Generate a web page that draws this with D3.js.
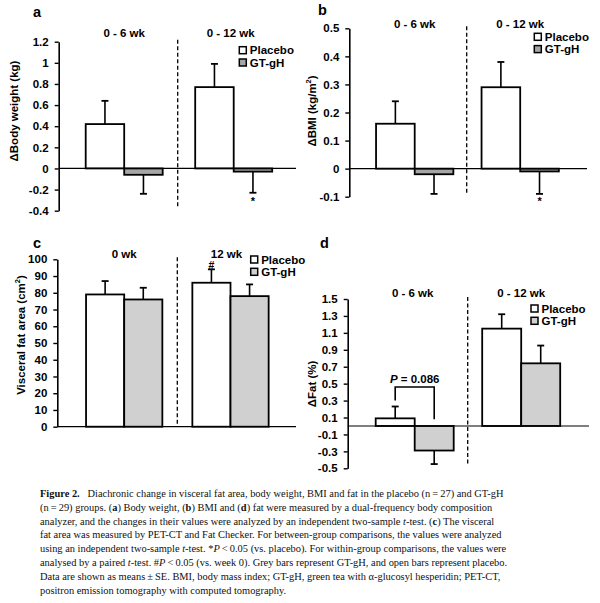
<!DOCTYPE html>
<html>
<head>
<meta charset="utf-8">
<script src="https://cdn.jsdelivr.net/npm/d3@7"></script>
<style>
  body { margin: 0; background: #fff; }
  svg { display: block; }
  .lab { font-family: "Liberation Sans", Arial, sans-serif; font-weight: bold; }
  .cap { font-family: "Liberation Serif", "Times New Roman", serif; }
</style>
</head>
<body>
<div id="chart"></div>
<script>
// groups and series
const changeGroups = ["0 - 6 wk", "0 - 12 wk"];
const visitGroups = ["0 wk", "12 wk"];
const series = ["Placebo", "GT-gH"];

// (a) change in body weight, kg
const weightPlacebo = [0.42, 0.77];
const weightPlaceboSE = [0.22, 0.22];
const weightGT = [-0.06, -0.03];
const weightGTSE = [0.18, 0.20];
const weightTicks = [-0.4, -0.2, 0, 0.2, 0.4, 0.6, 0.8, 1, 1.2];

// (b) change in BMI
const bmiPlacebo = [0.16, 0.29];
const bmiPlaceboSE = [0.08, 0.09];
const bmiGT = [-0.02, -0.01];
const bmiGTSE = [0.07, 0.08];
const bmiTicks = [-0.1, 0, 0.1, 0.2, 0.3, 0.4, 0.5];

// (c) visceral fat area, cm2
const vfaPlacebo = [79, 86];
const vfaPlaceboSE = [8, 8];
const vfaGT = [76, 78];
const vfaGTSE = [7, 7];
const vfaTicks = [0, 10, 20, 30, 40, 50, 60, 70, 80, 90, 100];

// (d) change in fat, %
const fatPlacebo = [0.09, 1.15];
const fatPlaceboSE = [0.14, 0.17];
const fatGT = [-0.29, 0.74];
const fatGTSE = [0.16, 0.21];
const fatTicks = [-0.5, -0.3, -0.1, 0.1, 0.3, 0.5, 0.7, 0.9, 1.1, 1.3, 1.5];

// caption lines
const captionLines = [
  [["b", "Figure 2."], ["", "\u2002 Diachronic change in visceral fat area, body weight, BMI and fat in the placebo (n\u2009=\u200927) and GT-gH"]],
  [["", "(n\u2009=\u200929) groups. ("], ["b", "a"], ["", ") Body weight, ("], ["b", "b"], ["", ") BMI and ("], ["b", "d"], ["", ") fat were measured by a dual-frequency body composition"]],
  [["", "analyzer, and the changes in their values were analyzed by an independent two-sample "], ["i", "t"], ["", "-test. ("], ["b", "c"], ["", ") The visceral"]],
  [["", "fat area was measured by PET-CT and Fat Checker. For between-group comparisons, the values were analyzed"]],
  [["", "using an independent two-sample "], ["i", "t"], ["", "-test. *"], ["i", "P"], ["", "\u2009<\u20090.05 (vs. placebo). For within-group comparisons, the values were"]],
  [["", "analysed by a paired "], ["i", "t"], ["", "-test. #"], ["i", "P"], ["", "\u2009<\u20090.05 (vs. week 0). Grey bars represent GT-gH, and open bars represent placebo."]],
  [["", "Data are shown as means\u2009\u00b1\u2009SE. BMI, body mass index; GT-gH, green tea with \u03b1-glucosyl hesperidin; PET-CT,"]],
  [["", "positron emission tomography with computed tomography."]]
];

const width = 600;
const height = 603;

const svg = d3.select("#chart")
  .append("svg")
  .attr("width", width)
  .attr("height", height);

const fmt = d => String(+d.toFixed(1));

// one bar panel
function drawPanel(p) {
  const g = svg.append("g");

  const y = d3.scaleLinear().domain(p.domain).range([p.bottom, p.top]);

  const step = p.c2 - p.c1;
  const x = d3.scaleBand()
    .domain(p.groups)
    .range([p.c1 - step / 2, p.c2 + step / 2])
    .paddingInner(1 - p.bw / step)
    .paddingOuter((1 - p.bw / step) / 2);
  const xs = d3.scaleBand().domain(series).range([0, x.bandwidth()]);

  const rows = [];
  p.groups.forEach((grp, i) => {
    rows.push({ grp, s: "Placebo", v: p.placebo[i], e: p.placeboSE[i] });
    rows.push({ grp, s: "GT-gH", v: p.gt[i], e: p.gtSE[i] });
  });
  const fill = s => s === "Placebo" ? "#ffffff" : p.grey;
  const cx = d => x(d.grp) + xs(d.s) + xs.bandwidth() / 2;
  const tip = d => y(d.v >= 0 ? d.v + d.e : d.v - d.e);

  // error bars (one-sided, away from zero)
  const eb = g.selectAll(".err").data(rows).enter().append("g");
  eb.append("line")
    .attr("x1", cx).attr("x2", cx)
    .attr("y1", d => y(d.v)).attr("y2", tip)
    .attr("stroke", "#000").attr("stroke-width", 1.6);
  eb.append("line")
    .attr("x1", d => cx(d) - 3.5).attr("x2", d => cx(d) + 3.5)
    .attr("y1", tip).attr("y2", tip)
    .attr("stroke", "#000").attr("stroke-width", 1.8);

  // bars
  g.selectAll(".bar").data(rows).enter().append("rect")
    .attr("x", d => x(d.grp) + xs(d.s))
    .attr("width", xs.bandwidth())
    .attr("y", d => y(Math.max(0, d.v)))
    .attr("height", d => Math.abs(y(d.v) - y(0)))
    .attr("fill", d => fill(d.s))
    .attr("stroke", "#000")
    .attr("stroke-width", 1.8);

  // baseline at zero
  g.append("line")
    .attr("x1", p.axisX).attr("x2", p.right)
    .attr("y1", y(0)).attr("y2", y(0))
    .attr("stroke", "#000").attr("stroke-width", 1.2);

  // dashed separator
  g.append("line")
    .attr("x1", p.sep).attr("x2", p.sep)
    .attr("y1", p.top - 2).attr("y2", p.bottom - 3)
    .attr("stroke", "#000").attr("stroke-width", 1.3)
    .attr("stroke-dasharray", "4,2.5");

  // y axis
  const ax = g.append("g")
    .attr("transform", `translate(${p.axisX},0)`)
    .call(d3.axisLeft(y).tickValues(p.ticks).tickFormat(fmt).tickSize(4).tickSizeOuter(0).tickPadding(6));
  ax.select(".domain").attr("stroke-width", 1.6);
  ax.selectAll(".tick line").attr("stroke-width", 1.4);
  ax.selectAll("text")
    .attr("class", "lab")
    .attr("font-size", 11.5)
    .attr("fill", "#000");

  // y label
  g.append("text")
    .attr("class", "lab")
    .attr("transform", `translate(${p.labX},${p.labY}) rotate(-90)`)
    .attr("text-anchor", "middle")
    .attr("dominant-baseline", "middle")
    .attr("font-size", 11.5)
    .html(p.ylabel);

  // panel letter
  g.append("text").attr("class", "lab")
    .attr("x", p.letterX).attr("y", p.letterY)
    .attr("font-size", 14.5).text(p.letter);

  // group labels
  g.selectAll(".grp").data(p.groups).enter().append("text")
    .attr("class", "lab")
    .attr("x", (d, i) => x(d) + x.bandwidth() / 2 + p.grpShift[i])
    .attr("y", p.grpY)
    .attr("text-anchor", "middle")
    .attr("font-size", 11.5)
    .text(d => d);

  // legend
  const lg = g.selectAll(".leg").data(series).enter().append("g")
    .attr("transform", (d, i) => `translate(${p.legX},${p.legY + i * 12.3})`);
  lg.append("rect")
    .attr("width", 7).attr("height", 7)
    .attr("fill", d => fill(d))
    .attr("stroke", "#000").attr("stroke-width", 1.5);
  lg.append("text").attr("class", "lab")
    .attr("x", 10.5).attr("y", 7.5)
    .attr("font-size", 11.5)
    .text(d => d);

  return { g, x, xs, y };
}

// (a)
const pa = drawPanel({
  letter: "a", letterX: 33, letterY: 17,
  groups: changeGroups, placebo: weightPlacebo, placeboSE: weightPlaceboSE, gt: weightGT, gtSE: weightGTSE,
  domain: [-0.4, 1.2], ticks: weightTicks, top: 41.7, bottom: 210.7,
  axisX: 58.7, right: 296, c1: 124.2, c2: 233.7, bw: 77, sep: 177.7,
  grey: "#a6a6a6", ylabel: "\u0394Body weight (kg)", labX: 15, labY: 111,
  grpY: 37, grpShift: [0, -3], legX: 239.3, legY: 46.7
});
pa.g.append("text").attr("class", "lab")
  .attr("x", pa.x(changeGroups[1]) + pa.xs("GT-gH") + pa.xs.bandwidth() / 2)
  .attr("y", 205).attr("text-anchor", "middle").attr("font-size", 11).text("*");

// (b)
const pb = drawPanel({
  letter: "b", letterX: 318, letterY: 15,
  groups: changeGroups, placebo: bmiPlacebo, placeboSE: bmiPlaceboSE, gt: bmiGT, gtSE: bmiGTSE,
  domain: [-0.1, 0.5], ticks: bmiTicks, top: 28.3, bottom: 196.7,
  axisX: 349.3, right: 587, c1: 414.7, c2: 520.2, bw: 77.3, sep: 466.7,
  grey: "#a6a6a6", ylabel: "\u0394BMI (kg/m<tspan dy='-4' font-size='7.5'>2</tspan><tspan dy='4'>)</tspan>", labX: 313, labY: 111,
  grpY: 28, grpShift: [0, 0], legX: 534.3, legY: 33.3
});
pb.g.append("text").attr("class", "lab")
  .attr("x", pb.x(changeGroups[1]) + pb.xs("GT-gH") + pb.xs.bandwidth() / 2)
  .attr("y", 205).attr("text-anchor", "middle").attr("font-size", 11).text("*");

// (c)
const pc = drawPanel({
  letter: "c", letterX: 33, letterY: 248,
  groups: visitGroups, placebo: vfaPlacebo, placeboSE: vfaPlaceboSE, gt: vfaGT, gtSE: vfaGTSE,
  domain: [0, 100], ticks: vfaTicks, top: 259.3, bottom: 426.7,
  axisX: 57.3, right: 296, c1: 124.2, c2: 230.5, bw: 76.3, sep: 177.3,
  grey: "#d0d0d0", ylabel: "Visceral fat area (cm<tspan dy='-4' font-size='7.5'>2</tspan><tspan dy='4'>)</tspan>", labX: 21.7, labY: 335,
  grpY: 258, grpShift: [0, -4], legX: 250.7, legY: 256
});
pc.g.append("text").attr("class", "lab")
  .attr("x", pc.x(visitGroups[1]) + pc.xs("Placebo") + pc.xs.bandwidth() / 2)
  .attr("y", 269).attr("text-anchor", "middle").attr("font-size", 10.5).text("#");

// (d)
const pd = drawPanel({
  letter: "d", letterX: 320, letterY: 248,
  groups: changeGroups, placebo: fatPlacebo, placeboSE: fatPlaceboSE, gt: fatGT, gtSE: fatGTSE,
  domain: [-0.5, 1.5], ticks: fatTicks, top: 299, bottom: 468.3,
  axisX: 347.7, right: 589, c1: 414.7, c2: 521.2, bw: 78, sep: 467.7,
  grey: "#d0d0d0", ylabel: "\u0394Fat (%)", labX: 313, labY: 384,
  grpY: 297, grpShift: [-2, 0], legX: 531, legY: 305
});
// significance bracket in (d)
const bxL = pd.x(changeGroups[0]) + pd.xs("Placebo") + pd.xs.bandwidth() / 2;
const bxR = pd.x(changeGroups[0]) + pd.xs("GT-gH") + pd.xs.bandwidth() / 2;
pd.g.append("path")
  .attr("d", `M${bxL},${pd.y(0.30)}V${pd.y(0.46)}H${bxR}V${pd.y(0.08)}`)
  .attr("fill", "none").attr("stroke", "#000").attr("stroke-width", 1.6);
pd.g.append("text").attr("class", "lab")
  .attr("x", (bxL + bxR) / 2).attr("y", pd.y(0.51))
  .attr("text-anchor", "middle").attr("font-size", 11.5)
  .html("<tspan font-style='italic'>P</tspan> = 0.086");

// caption: size font so the widest line spans about 468 px
const cap = svg.append("g").attr("class", "cap");
const capTexts = captionLines.map((parts, i) => {
  const t = cap.append("text")
    .attr("x", 40)
    .attr("y", 497 + i * 13.8)
    .attr("font-size", 12)
    .attr("fill", "#111");
  parts.forEach(([st, txt]) => {
    const ts = t.append("tspan").text(txt);
    if (st === "b") ts.attr("font-weight", "bold");
    if (st === "i") ts.attr("font-style", "italic");
  });
  return t;
});
const widest = d3.max(capTexts, t => t.node().getComputedTextLength());
const capSize = 12 * 468 / widest;
capTexts.forEach(t => t.attr("font-size", capSize));
</script>
</body>
</html>
